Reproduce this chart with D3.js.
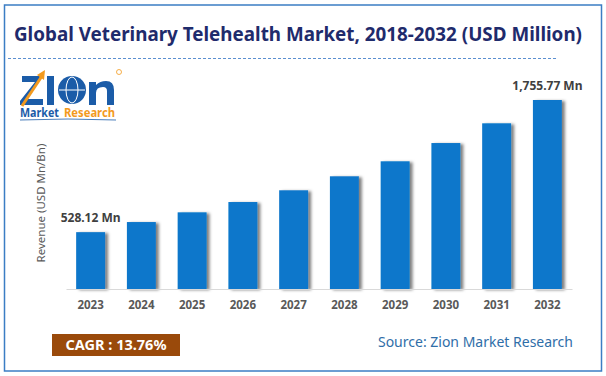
<!DOCTYPE html>
<html>
<head>
<meta charset="utf-8">
<script src="https://cdn.jsdelivr.net/npm/d3@7"></script>
<style>
  html, body { margin: 0; padding: 0; background: #fff; overflow: hidden; }
  svg { display: block; }
  text { font-family: "Noto Sans", "Open Sans", sans-serif; }
</style>
</head>
<body>
<script>
/*
*    veterinary telehealth chart
*/

var width = 606;
var height = 376;
var margin = {top: 100, right: 34, bottom: 87, left: 66};

//Data
var years = ["2023", "2024", "2025", "2026", "2027", "2028", "2029", "2030", "2031", "2032"];
var revenue = [528.12, 622, 712, 808, 917, 1047, 1186, 1356, 1539, 1755.77];
var labelled = [
    {year: "2023", value: 528.12, label: "528.12 Mn"},
    {year: "2032", value: 1755.77, label: "1,755.77 Mn"}
];

var innerHeight = height - margin.top - margin.bottom;
var innerWidth = width - margin.left - margin.right;

//Scales
var x = d3.scaleBand()
    .domain(years)
    .range([0, innerWidth])
    .paddingInner(0.43)
    .paddingOuter(0.2);

var y = d3.scaleLinear()
    .domain([0, d3.max(revenue)])
    .range([innerHeight, 0]);

//Canvas
var svg = d3.select("body")
    .append("svg")
        .attr("width", width)
        .attr("height", height);

var defs = svg.append("defs");
var shadow = defs.append("filter")
    .attr("id", "barShadow")
    .attr("x", "-20%").attr("y", "-10%")
    .attr("width", "160%").attr("height", "130%");
shadow.append("feDropShadow")
    .attr("dx", 3)
    .attr("dy", 1)
    .attr("stdDeviation", 1.6)
    .attr("flood-color", "#000")
    .attr("flood-opacity", 0.5);

//Frame
svg.append("rect")
    .attr("x", 4.5).attr("y", 5)
    .attr("width", 597).attr("height", 366)
    .attr("fill", "none")
    .attr("stroke", "#3b7dc4")
    .attr("stroke-width", 1.5);

//Title
svg.append("text")
    .attr("x", 298)
    .attr("y", 41)
    .attr("text-anchor", "middle")
    .attr("textLength", 568)
    .attr("lengthAdjust", "spacingAndGlyphs")
    .attr("font-size", 20)
    .attr("font-weight", "bold")
    .attr("fill", "#1f2b6c")
    .text("Global Veterinary Telehealth Market, 2018-2032 (USD Million)");

svg.append("line")
    .attr("x1", 8).attr("x2", 556)
    .attr("y1", 58.5).attr("y2", 58.5)
    .attr("stroke", "#5b8fd0")
    .attr("stroke-width", 1)
    .attr("stroke-dasharray", "3,2");

//Logo
var logo = svg.append("g").attr("transform", "translate(20, 68)");
logo.append("path")
    .attr("d", "M2,8 L22,8 L6,31 L23,31 L23,37 L0,37 L0,33 L15,14 L2,14 Z")
    .attr("fill", "#1b5ca8");
logo.append("rect")
    .attr("x", 27).attr("y", 8)
    .attr("width", 7).attr("height", 29)
    .attr("fill", "#1b5ca8");
logo.append("circle")
    .attr("cx", 52).attr("cy", 22)
    .attr("r", 14)
    .attr("fill", "#1b5ca8");
logo.append("ellipse")
    .attr("cx", 52).attr("cy", 22)
    .attr("rx", 6).attr("ry", 13)
    .attr("fill", "none")
    .attr("stroke", "#fff")
    .attr("stroke-width", 1);
logo.append("line")
    .attr("x1", 39).attr("x2", 65)
    .attr("y1", 22).attr("y2", 22)
    .attr("stroke", "#fff")
    .attr("stroke-width", 1);
logo.append("path")
    .attr("d", "M69,37 L69,14 L76,14 L76,17 Q80,13 86,13 Q94,13 94,22 L94,37 L87,37 L87,23 Q87,19 83,19 Q76,19 76,25 L76,37 Z")
    .attr("fill", "#1b5ca8");
logo.append("path")
    .attr("d", "M2,38 L22,8")
    .attr("stroke", "#f39a1e")
    .attr("stroke-width", 3);
logo.append("path")
    .attr("d", "M17,7 L25,2 L24,12 Z")
    .attr("fill", "#f39a1e");
logo.append("circle")
    .attr("cx", 99).attr("cy", 4)
    .attr("r", 2.5)
    .attr("fill", "none")
    .attr("stroke", "#f39a1e")
    .attr("stroke-width", 0.8);
logo.append("text")
    .attr("x", 0).attr("y", 49)
    .attr("font-size", 12)
    .attr("font-weight", "bold")
    .attr("fill", "#1b5ca8")
    .attr("textLength", 39)
    .attr("lengthAdjust", "spacingAndGlyphs")
    .text("Market");
logo.append("text")
    .attr("x", 44).attr("y", 49)
    .attr("font-size", 12)
    .attr("font-weight", "bold")
    .attr("fill", "#f39a1e")
    .attr("textLength", 51)
    .attr("lengthAdjust", "spacingAndGlyphs")
    .text("Research");
logo.append("path")
    .attr("d", "M0,52 Q48,50 96,52")
    .attr("stroke", "#1b5ca8")
    .attr("fill", "none")
    .attr("stroke-width", 0.8);

//Chart group
var g = svg.append("g")
    .attr("transform", "translate(" + margin.left + ", " + margin.top + ")");

//Bars
g.selectAll("rect.bar")
    .data(revenue)
    .enter()
    .append("rect")
        .attr("class", "bar")
        .attr("x", (d, i) => x(years[i]))
        .attr("y", d => y(d))
        .attr("width", x.bandwidth())
        .attr("height", d => innerHeight - y(d))
        .attr("fill", "#0a77cb")
        .attr("filter", "url(#barShadow)");

//Bottom axis
var bottomAxis = d3.axisBottom(x).tickSize(0).tickPadding(12);
var xAxis = g.append("g")
    .attr("class", "bottom axis")
    .attr("transform", "translate(0, " + innerHeight + ")")
    .call(bottomAxis);
xAxis.select(".domain")
    .attr("stroke", "#d9d9d9");
xAxis.selectAll("text")
    .attr("font-size", 11.5)
    .attr("font-weight", "bold")
    .attr("fill", "#595959")
    .attr("font-family", "Noto Sans, sans-serif");

//Value labels
g.selectAll("text.value")
    .data(labelled)
    .enter()
    .append("text")
        .attr("class", "value")
        .attr("x", d => x(d.year) + x.bandwidth() / 2)
        .attr("y", d => y(d.value) - 10)
        .attr("text-anchor", "middle")
        .attr("font-size", 12)
        .attr("font-weight", "bold")
        .attr("fill", "#404040")
        .text(d => d.label);

//Y label
svg.append("text")
    .attr("transform", "rotate(-90)")
    .attr("x", -203)
    .attr("y", 45)
    .attr("text-anchor", "middle")
    .attr("font-size", 11.5)
    .attr("fill", "#595959")
    .text("Revenue (USD Mn/Bn)");

//CAGR box
svg.append("rect")
    .attr("x", 52).attr("y", 334)
    .attr("width", 128).attr("height", 22)
    .attr("fill", "#9a4a0b");
svg.append("text")
    .attr("x", 116).attr("y", 350)
    .attr("text-anchor", "middle")
    .attr("font-size", 14.5)
    .attr("font-weight", "bold")
    .attr("fill", "#fff")
    .text("CAGR :  13.76%");

//Source
svg.append("text")
    .attr("x", 573).attr("y", 347)
    .attr("text-anchor", "end")
    .attr("font-size", 14)
    .attr("fill", "#2f6ea8")
    .text("Source: Zion Market Research");
</script>
</body>
</html>
